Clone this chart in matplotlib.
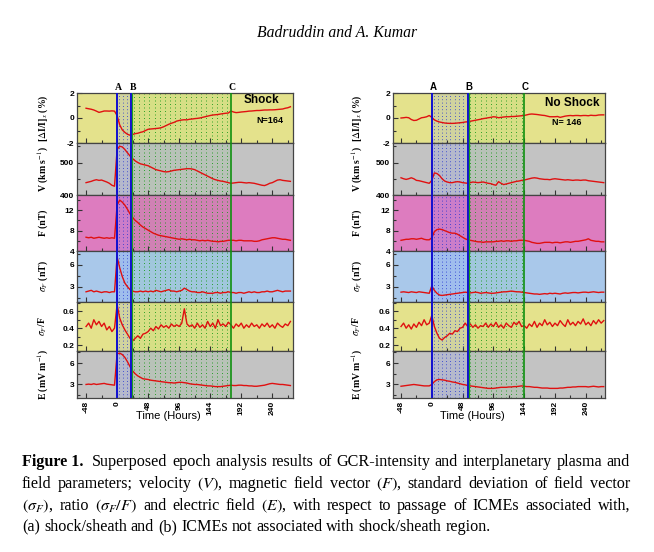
import numpy as np
import matplotlib
matplotlib.use('Agg')
import matplotlib.pyplot as plt
from matplotlib.ticker import MultipleLocator, FixedLocator
import matplotlib.transforms as mtransforms

plt.rcParams['mathtext.fontset'] = 'stix'

# ---------------- data (hours relative to ICME arrival, 4-hour grid) ----------------
T = np.arange(-48, 269, 4)

shock_gcr = [0.78, 0.74, 0.70, 0.64, 0.55, 0.45, 0.50, 0.56, 0.56, 0.55, 0.57, 0.55,
             0.20, -0.55, -0.95, -1.15, -1.30, -1.38, -1.32, -1.25, -1.22, -1.15, -1.10, -1.00,
             -0.90, -0.88, -0.86, -0.84, -0.82, -0.78, -0.70, -0.60, -0.50, -0.42, -0.35, -0.25,
             -0.20, -0.16, -0.14, -0.15, -0.10, -0.08, -0.05, -0.03, 0.00, 0.05, 0.10, 0.15,
             0.20, 0.24, 0.26, 0.28, 0.32, 0.35, 0.38, 0.40, 0.56, 0.48, 0.43, 0.45,
             0.48, 0.50, 0.52, 0.55, 0.56, 0.58, 0.60, 0.60, 0.62, 0.64, 0.64, 0.65,
             0.65, 0.66, 0.68, 0.70, 0.72, 0.78, 0.82, 0.90]
shock_v = [438, 440, 442, 445, 447, 445, 446, 443, 440, 436, 430, 427,
           540, 550, 548, 540, 530, 520, 512, 505, 500, 496, 494, 492,
           490, 486, 482, 478, 476, 474, 472, 471, 472, 474, 476, 477,
           478, 479, 480, 481, 481, 480, 478, 474, 470, 466, 462, 458,
           454, 450, 447, 445, 443, 442, 440, 438, 436, 437, 438, 439,
           439, 438, 437, 438, 437, 436, 434, 432, 430, 429, 432, 436,
           438, 442, 446, 447, 445, 444, 443, 442]
shock_f = [6.7, 6.6, 6.7, 6.5, 6.6, 6.7, 6.6, 6.5, 6.6, 6.5, 6.6, 6.5,
           13.0, 14.0, 13.6, 13.0, 12.2, 11.3, 10.6, 10.0, 9.6, 9.1, 8.7, 8.4,
           8.1, 7.8, 7.5, 7.3, 7.1, 7.0, 6.9, 6.8, 6.7, 6.6, 6.5, 6.4,
           6.3, 6.4, 6.3, 6.2, 6.3, 6.2, 6.2, 6.1, 6.0, 6.1, 6.0, 6.1,
           6.0, 5.9, 5.9, 5.8, 5.9, 5.9, 6.0, 6.1, 6.1, 6.1, 6.0, 6.1,
           6.1, 6.0, 6.0, 6.0, 6.0, 5.9, 5.9, 6.0, 6.2, 6.3, 6.4, 6.5,
           6.6, 6.6, 6.5, 6.4, 6.3, 6.3, 6.2, 6.1]
shock_sf = [2.3, 2.4, 2.5, 2.3, 2.4, 2.3, 2.2, 2.3, 2.3, 2.2, 2.3, 2.3,
            7.1, 5.6, 4.4, 3.5, 3.0, 2.6, 2.4, 2.3, 2.3, 2.4, 2.3, 2.4,
            2.3, 2.4, 2.3, 2.5, 2.4, 2.3, 2.4, 2.5, 2.6, 2.4, 2.4, 2.3,
            2.4, 2.5, 2.8, 2.6, 2.4, 2.3, 2.3, 2.2, 2.2, 2.3, 2.2, 2.1,
            2.1, 2.1, 2.2, 2.2, 2.1, 2.2, 2.2, 2.3, 2.2, 2.2, 2.1, 2.2,
            2.2, 2.1, 2.2, 2.3, 2.2, 2.3, 2.2, 2.2, 2.3, 2.3, 2.4, 2.3,
            2.3, 2.4, 2.5, 2.4, 2.3, 2.4, 2.4, 2.4]
shock_ratio = [0.42, 0.46, 0.40, 0.50, 0.44, 0.48, 0.42, 0.46, 0.38, 0.42, 0.36, 0.40,
               0.68, 0.52, 0.44, 0.38, 0.33, 0.28, 0.25, 0.28, 0.31, 0.28, 0.33, 0.34,
               0.36, 0.40, 0.37, 0.42, 0.39, 0.44, 0.41, 0.43, 0.40, 0.45, 0.42, 0.44,
               0.42, 0.46, 0.63, 0.45, 0.42, 0.44, 0.40, 0.46, 0.41, 0.44, 0.40, 0.48,
               0.42, 0.46, 0.40, 0.50, 0.43, 0.45, 0.42, 0.47, 0.44, 0.40, 0.45, 0.42,
               0.46, 0.40, 0.44, 0.41, 0.46, 0.42, 0.44, 0.40, 0.45, 0.42, 0.46, 0.41,
               0.44, 0.40, 0.46, 0.43, 0.41, 0.45, 0.43, 0.48]
shock_e = [3.0, 3.05, 3.0, 3.1, 3.0, 3.05, 3.1, 3.15, 3.05, 3.0, 2.95, 2.9,
           7.3, 7.4, 7.2, 6.8, 6.2, 5.5, 4.9, 4.5, 4.2, 4.0, 3.8, 3.75,
           3.7, 3.6, 3.55, 3.5, 3.45, 3.4, 3.35, 3.3, 3.25, 3.25, 3.2, 3.25,
           3.3, 3.3, 3.25, 3.2, 3.1, 3.05, 3.0, 3.0, 2.95, 2.9, 2.85, 2.8,
           2.8, 2.75, 2.7, 2.7, 2.7, 2.75, 2.8, 2.85, 2.9, 2.85, 2.85, 2.9,
           2.9, 2.85, 2.85, 2.8, 2.8, 2.75, 2.75, 2.8, 2.85, 2.9, 3.0, 3.1,
           3.15, 3.1, 3.05, 3.0, 3.0, 2.95, 2.9, 2.85]

noshock_gcr = [0.00, 0.02, 0.05, 0.02, -0.12, -0.20, -0.18, -0.08, 0.02, 0.05, 0.10, 0.20,
               0.05, -0.15, -0.25, -0.32, -0.36, -0.40, -0.42, -0.43, -0.43, -0.42, -0.40, -0.38,
               -0.36, -0.32, -0.30, -0.26, -0.22, -0.18, -0.14, -0.10, -0.05, -0.02, 0.02, 0.05,
               0.10, 0.08, 0.02, 0.05, 0.08, 0.10, 0.10, 0.12, 0.12, 0.14, 0.16, 0.18,
               0.20, 0.25, 0.30, 0.32, 0.30, 0.28, 0.25, 0.22, 0.20, 0.15, 0.10, 0.10,
               0.10, 0.12, 0.05, 0.10, 0.15, 0.18, 0.20, 0.18, 0.20, 0.20, 0.18, 0.20,
               0.20, 0.18, 0.22, 0.20, 0.20, 0.24, 0.25, 0.25]
noshock_v = [453, 450, 448, 450, 453, 450, 445, 444, 442, 440, 438, 436,
             445, 468, 466, 460, 450, 443, 440, 438, 438, 440, 441, 440,
             438, 437, 436, 438, 440, 439, 438, 439, 440, 438, 436, 435,
             432, 430, 441, 436, 432, 434, 436, 438, 440, 442, 443, 445,
             446, 448, 450, 452, 453, 452, 450, 449, 448, 448, 447, 449,
             450, 449, 448, 447, 446, 447, 446, 445, 446, 446, 445, 446,
             446, 444, 443, 442, 441, 440, 439, 438]
noshock_f = [6.1, 6.2, 6.3, 6.3, 6.4, 6.4, 6.3, 6.4, 6.5, 6.3, 6.2, 6.2,
             6.6, 7.8, 8.2, 8.3, 8.2, 8.0, 7.8, 7.6, 7.5, 7.5, 7.3, 7.0,
             6.7, 6.4, 6.2, 6.1, 6.0, 5.9, 5.8, 5.8, 5.7, 5.8, 5.8, 5.8,
             5.8, 5.9, 5.9, 6.0, 5.9, 6.0, 6.0, 5.9, 6.0, 6.0, 6.1, 6.1,
             6.1, 6.0, 5.9, 5.7, 5.6, 5.5, 5.5, 5.6, 5.7, 5.7, 5.7, 5.6,
             5.7, 5.7, 5.6, 5.7, 5.8, 5.8, 5.7, 5.8, 5.9, 5.9, 6.0, 6.1,
             6.2, 6.4, 6.1, 6.0, 5.9, 5.9, 5.8, 5.8]
noshock_sf = [2.25, 2.3, 2.25, 2.2, 2.3, 2.25, 2.2, 2.3, 2.25, 2.2, 2.15, 2.1,
              3.1, 2.5, 2.1, 1.85, 1.8, 1.85, 1.9, 1.95, 2.0, 2.05, 2.1, 2.15,
              2.2, 2.25, 2.2, 2.15, 2.2, 2.25, 2.2, 2.1, 2.15, 2.2, 2.15, 2.1,
              2.1, 2.15, 2.2, 2.25, 2.3, 2.3, 2.35, 2.4, 2.35, 2.3, 2.3, 2.25,
              2.2, 2.15, 2.1, 2.05, 2.0, 2.0, 1.95, 2.0, 2.05, 2.0, 2.1, 2.05,
              2.1, 2.05, 2.0, 2.1, 2.15, 2.1, 2.15, 2.2, 2.2, 2.15, 2.2, 2.25,
              2.25, 2.2, 2.25, 2.3, 2.25, 2.2, 2.25, 2.25]
noshock_ratio = [0.42, 0.46, 0.40, 0.44, 0.39, 0.45, 0.41, 0.47, 0.43, 0.50, 0.44, 0.46,
                 0.55, 0.42, 0.34, 0.28, 0.26, 0.29, 0.31, 0.34, 0.33, 0.37, 0.36, 0.40,
                 0.41, 0.46, 0.42, 0.45, 0.41, 0.44, 0.40, 0.43, 0.42, 0.46, 0.41, 0.45,
                 0.42, 0.47, 0.41, 0.44, 0.40, 0.46, 0.43, 0.41, 0.47, 0.44, 0.48, 0.42,
                 0.43, 0.40, 0.45, 0.42, 0.48, 0.41, 0.46, 0.43, 0.50, 0.44, 0.47, 0.42,
                 0.46, 0.43, 0.49, 0.45, 0.42, 0.50, 0.44, 0.47, 0.43, 0.48, 0.45, 0.51,
                 0.44, 0.47, 0.43, 0.49, 0.45, 0.50, 0.46, 0.49]
noshock_e = [2.75, 2.8, 2.85, 2.9, 2.95, 3.0, 2.95, 2.9, 2.85, 2.8, 2.8, 2.8,
             3.0, 3.4, 3.65, 3.7, 3.65, 3.6, 3.5, 3.45, 3.35, 3.3, 3.2, 3.1,
             3.0, 2.95, 2.85, 2.8, 2.75, 2.7, 2.65, 2.6, 2.55, 2.5, 2.45, 2.45,
             2.45, 2.5, 2.55, 2.6, 2.6, 2.6, 2.65, 2.65, 2.7, 2.7, 2.75, 2.8,
             2.75, 2.7, 2.7, 2.65, 2.6, 2.6, 2.55, 2.5, 2.5, 2.5, 2.45, 2.45,
             2.45, 2.45, 2.5, 2.5, 2.55, 2.6, 2.6, 2.65, 2.65, 2.7, 2.7, 2.7,
             2.7, 2.65, 2.7, 2.75, 2.7, 2.65, 2.7, 2.7]

# epoch markers A, B, C (hours)
shock_marks = [0, 22, 176]
noshock_marks = [0, 56, 144]
xticks = [-48, 0, 48, 96, 144, 192, 240]

ylabels = [r'[$\Delta$I/I]$_x$ (%)', r'V (km s$^{-1}$)', 'F (nT)',
           r'$\sigma_F$ (nT)', r'$\sigma_F$/F', r'E (mV m$^{-1}$)']
ylims = [(-2, 2), (400, 560), (4, 15), (0.9, 7.9), (0.13, 0.71), (1.1, 7.7)]
ymajor = [[-2, 0, 2], [400, 500], [4, 8, 12], [3, 6], [0.2, 0.4, 0.6], [3, 6]]
yminor = [1, 50, 2, 1.5, 0.1, 1.5]
ylabtxt = [['-2', '0', '2'], ['400', '500'], ['4', '8', '12'], ['3', '6'],
           ['0.2', '0.4', '0.6'], ['3', '6']]
bgcolors = ['#e4e28c', '#c3c3c3', '#dd7cbf', '#a9c8ea', '#e4e28c', '#c3c3c3']

# ---------------- figure ----------------
W, H = 654, 552
fig = plt.figure(figsize=(W / 100, H / 100), dpi=100)
edges = [93, 143, 195, 251, 302, 351, 398]
cols = [dict(x0=77, x1=293, xlim=(-62, 272), marks=shock_marks,
             series=[shock_gcr, shock_v, shock_f, shock_sf, shock_ratio, shock_e],
             ylab_x=43, xlab_x=168, title='Shock', n='N=164', abc_font='Liberation Serif',
             title_pos=(0.935, 0.86), n_pos=(0.955, 0.44)),
        dict(x0=393, x1=605, xlim=(-60.5, 270), marks=noshock_marks,
             series=[noshock_gcr, noshock_v, noshock_f, noshock_sf, noshock_ratio, noshock_e],
             ylab_x=357, xlab_x=472, title='No Shock', n='N= 146', abc_font='Liberation Sans',
             title_pos=(0.975, 0.80), n_pos=(0.89, 0.40))]

tickfont = dict(family='Liberation Sans', weight='bold', size=6)

for c in cols:
    A, B, C = c['marks']
    for i in range(6):
        top, bot = edges[i], edges[i + 1]
        ax = fig.add_axes([c['x0'] / W, 1 - bot / H, (c['x1'] - c['x0']) / W, (bot - top) / H])
        ax.set_facecolor(bgcolors[i])
        ax.set_xlim(*c['xlim'])
        ax.set_ylim(*ylims[i])
        # shaded regions with dotted pattern
        ax.axvspan(A, B, color='#6f86ff', alpha=0.16, lw=0, zorder=1)
        ax.axvspan(B, C, color='#3cbf3c', alpha=0.08, lw=0, zorder=1)
        for xv in np.arange(A + 3, B - 1, 6.5):
            ax.axvline(xv, color='#2030d0', lw=0.6, ls=(0, (1, 3)), zorder=2)
        for xv in np.arange(B + 4, C - 1, 8):
            ax.axvline(xv, color='#1a9a1a', lw=0.6, ls=(0, (1.2, 3)), zorder=2)
        ax.plot(T, c['series'][i], color='#e01010', lw=1.0, zorder=4)
        ax.axvline(A, color='#1010d0', lw=1.4, zorder=5)
        ax.axvline(B, color='#1010d0', lw=1.4, zorder=5)
        ax.axvline(B + 1.5, color='#20a020', lw=0.8, zorder=5)
        ax.axvline(C, color='#109010', lw=1.2, zorder=5)
        # ticks
        ax.yaxis.set_major_locator(FixedLocator(ymajor[i]))
        ax.yaxis.set_minor_locator(MultipleLocator(yminor[i]))
        ax.set_yticklabels(ylabtxt[i], fontdict=tickfont)
        ax.xaxis.set_major_locator(FixedLocator(xticks))
        ax.xaxis.set_minor_locator(MultipleLocator(24))
        ax.tick_params(axis='both', which='both', direction='in', top=False, right=False,
                       color='#333333', width=0.8, pad=2)
        ax.tick_params(axis='both', which='major', length=3.5)
        ax.tick_params(axis='both', which='minor', length=2.5)
        if i < 5:
            ax.set_xticklabels([])
        else:
            ax.set_xticklabels([str(v) for v in xticks], rotation=90, fontdict=tickfont)
        for s in ax.spines.values():
            s.set_color('#444444')
            s.set_linewidth(0.9)
        ymid = 1 - (top + bot) / 2 / H
        fig.text(c['ylab_x'] / W, ymid, ylabels[i], rotation=90, ha='center', va='center',
                 family='Liberation Serif', weight='bold', fontsize=7)
        if i == 0:
            trans = mtransforms.blended_transform_factory(ax.transData, ax.transAxes)
            for lab, xv in zip(['A', 'B', 'C'], [A, B, C]):
                ax.text(xv + 2, 1.03, lab, transform=trans, ha='center', va='bottom',
                        family=c['abc_font'], weight='bold', fontsize=7)
            ax.text(*c['title_pos'], c['title'], transform=ax.transAxes, ha='right',
                    va='center', family='Liberation Sans', weight='bold', fontsize=8.5)
            ax.text(*c['n_pos'], c['n'], transform=ax.transAxes, ha='right', va='center',
                    family='Liberation Sans', weight='bold', fontsize=6.5)
    fig.text(c['xlab_x'] / W, 1 - 416 / H, 'Time (Hours)', ha='center', va='center',
             family='Liberation Sans', fontsize=8)

# ---------------- header ----------------
fig.text(337 / W, 1 - 33 / H, 'Badruddin and A. Kumar', ha='center', va='center',
         family='Liberation Serif', style='italic', fontsize=11.3)

# ---------------- justified caption ----------------
renderer = fig.canvas.get_renderer()
CAP_FS = 11.6


def caption_line(words, baseline, justify=True, x0=22, x1=630):
    objs = []
    for w in words:
        if isinstance(w, tuple):
            s, kw = w
        else:
            s, kw = w, {}
        t = fig.text(0, 1 - baseline / H, s, family='Liberation Serif', fontsize=CAP_FS,
                     va='baseline', ha='left', **kw)
        objs.append(t)
    widths = [t.get_window_extent(renderer).width for t in objs]
    if justify and len(objs) > 1:
        gap = (x1 - x0 - sum(widths)) / (len(objs) - 1)
    else:
        gap = CAP_FS * 0.25 * 100 / 72
    x = x0
    for t, w in zip(objs, widths):
        t.set_x(x / W)
        x += w + gap


line1 = [('Figure 1. ', dict(weight='bold'))] + \
    'Superposed epoch analysis results of GCR-intensity and interplanetary plasma and'.split()
line2 = ['field', 'parameters;', 'velocity', r'$(V)$,', 'magnetic', 'field', 'vector', r'$(F)$,',
         'standard', 'deviation', 'of', 'field', 'vector']
line3 = [r'$(\sigma_F)$,', 'ratio', r'$(\sigma_F/F)$', 'and', 'electric', 'field', r'$(E)$,',
         'with', 'respect', 'to', 'passage', 'of', 'ICMEs', 'associated', 'with,']
line4 = '(a) shock/sheath and (b) ICMEs not associated with shock/sheath region.'.split()

caption_line(line1, 466)
caption_line(line2, 488)
caption_line(line3, 510)
caption_line(line4, 531, justify=False)

fig.savefig('out.png', dpi=100)
